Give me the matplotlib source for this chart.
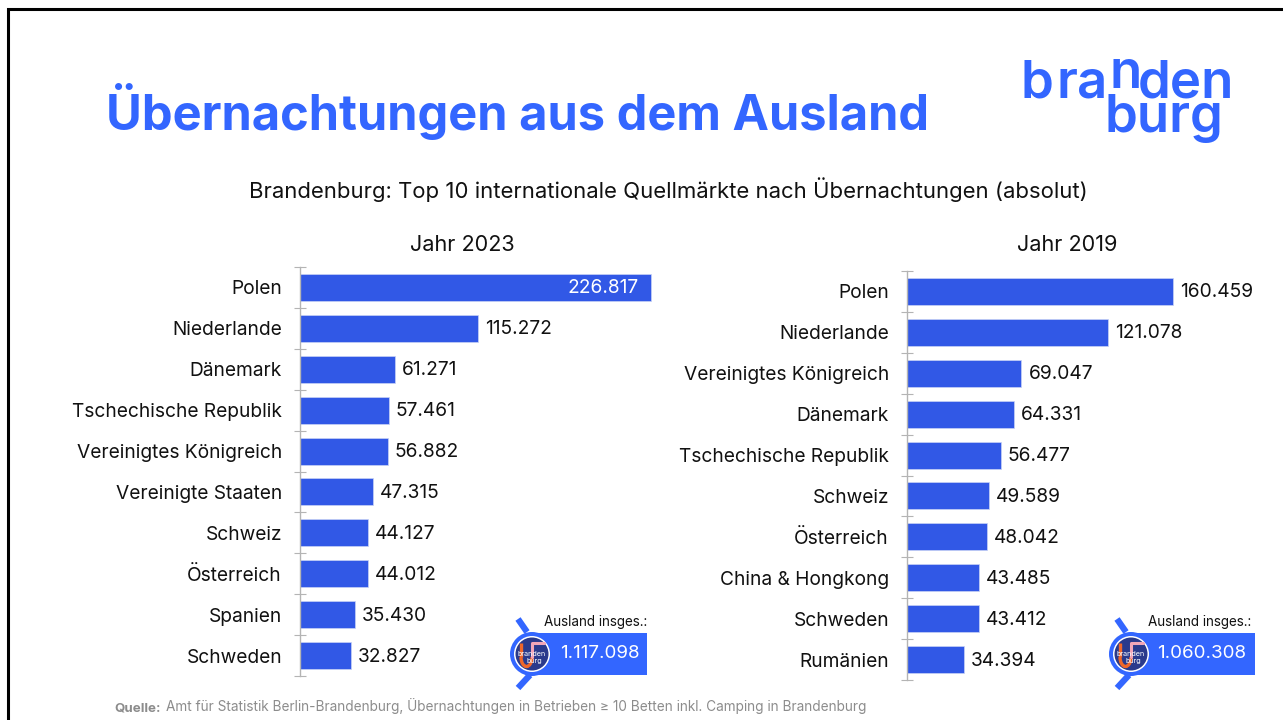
import matplotlib
matplotlib.use("Agg")
import matplotlib.pyplot as plt
from matplotlib.patches import Circle, Rectangle, Arc

W, H = 1283, 720
FONT = "Inter"
plt.rcParams["font.family"] = [FONT, "DejaVu Sans"]

TITLE = "Übernachtungen aus dem Ausland"
SUBTITLE = "Brandenburg: Top 10 internationale Quellmärkte nach Übernachtungen (absolut)"
SOURCE_BOLD = "Quelle:"
SOURCE = "Amt für Statistik Berlin-Brandenburg, Übernachtungen in Betrieben ≥ 10 Betten inkl. Camping in Brandenburg"

title_2023 = "Jahr 2023"
categories_2023 = ["Polen", "Niederlande", "Dänemark", "Tschechische Republik", "Vereinigtes Königreich",
                   "Vereinigte Staaten", "Schweiz", "Österreich", "Spanien", "Schweden"]
values_2023 = [226817, 115272, 61271, 57461, 56882, 47315, 44127, 44012, 35430, 32827]
total_2023 = 1117098

title_2019 = "Jahr 2019"
categories_2019 = ["Polen", "Niederlande", "Vereinigtes Königreich", "Dänemark", "Tschechische Republik",
                   "Schweiz", "Österreich", "China & Hongkong", "Schweden", "Rumänien"]
values_2019 = [160459, 121078, 69047, 64331, 56477, 49589, 48042, 43485, 43412, 34394]
total_2019 = 1060308

BLUE = "#3366FF"
BAR = "#3158E6"
GREY = "#B4B4B4"
INK = "#111111"
LABEL_SIZE = 13.8


def fmt(v):
    return f"{v:,}".replace(",", ".")


fig = plt.figure(figsize=(W / 100, H / 100), dpi=100, facecolor="white")
bg = fig.add_axes([0, 0, 1, 1], zorder=5)
bg.set_xlim(0, W)
bg.set_ylim(H, 0)
bg.axis("off")
bg.patch.set_alpha(0)

# frame
bg.plot([8, 8, W], [H, 9, 9], color="black", lw=2.2, solid_joinstyle="miter")

# header
bg.text(106, 130, TITLE, color=BLUE, fontsize=35.2, fontweight="bold", va="baseline", ha="left")
bg.text(668, 198, SUBTITLE, color=INK, fontsize=15.9, va="baseline", ha="center")

# logo
logo_kw = dict(color=BLUE, fontsize=38, va="baseline", fontweight="semibold")
bg.text(1021, 98, "b", ha="left", **logo_kw)
bg.text(1057, 98, "r", ha="left", **logo_kw)
bg.text(1077, 98, "a", ha="left", **logo_kw)
bg.text(1126, 88, "n", ha="center", **logo_kw)
bg.text(1234, 98, "den", ha="right", **logo_kw)
bg.text(1223, 132, "burg", ha="right", **logo_kw)


def panel(left, top, px_per_unit, cats, vals, title, title_x, title_y, inside_first):
    xmax = 245000
    height = 409
    width = xmax * px_per_unit
    ax = fig.add_axes([left / W, 1 - (top + height) / H, width / W, height / H])
    ax.patch.set_alpha(0)
    ypos = list(range(len(vals)))
    ax.barh(ypos, vals, height=0.66, color=BAR, edgecolor="#C9D3F5", linewidth=0.5)
    ax.set_xlim(0, xmax)
    ax.set_ylim(len(vals) - 0.5, -0.5)
    for s in ["top", "right", "bottom"]:
        ax.spines[s].set_visible(False)
    ax.spines["left"].set_color(GREY)
    ax.spines["left"].set_linewidth(1.0)
    ax.xaxis.set_visible(False)
    ax.set_yticks(ypos)
    ax.set_yticklabels(cats, fontsize=LABEL_SIZE, color=INK)
    ax.set_yticks([p - 0.5 for p in ypos] + [len(vals) - 0.5], minor=True)
    ax.tick_params(axis="y", which="major", length=0, pad=13)
    ax.tick_params(axis="y", which="minor", direction="inout", length=8.5, width=0.8, color=GREY)
    for i, v in zip(ypos, vals):
        if i == 0 and inside_first:
            ax.annotate(fmt(v), (v, i), xytext=(-9, -0.7), textcoords="offset points",
                        ha="right", va="center", color="white", fontsize=LABEL_SIZE)
        else:
            ax.annotate(fmt(v), (v, i), xytext=(5, -0.7), textcoords="offset points",
                        ha="left", va="center", color=INK, fontsize=LABEL_SIZE)
    bg.text(title_x, title_y, title, ha="center", va="baseline", fontsize=15.6, color=INK)


panel(300, 267, 351 / 226817, categories_2023, values_2023, title_2023, 462, 251, True)
panel(907, 271, 266 / 160459, categories_2019, values_2019, title_2019, 1067, 251, False)


def badge(cx, right, total, label_x, value_x):
    cy = 654
    bg.add_patch(Rectangle((cx, 633), right - cx, 42, color=BLUE, lw=0, zorder=2))
    bg.plot([cx - 14, cx - 5], [619, 632], color=BLUE, lw=4.5, zorder=2, solid_capstyle="butt")
    bg.plot([cx - 14, cx - 2], [688, 675], color=BLUE, lw=4.5, zorder=2, solid_capstyle="butt")
    bg.add_patch(Circle((cx, cy), 22, color=BLUE, lw=0, zorder=3))
    bg.add_patch(Circle((cx, cy), 18, color="white", lw=0, zorder=4))
    bg.add_patch(Circle((cx, cy), 16.5, color="#2A3A8C", lw=0, zorder=5))
    orange = "#F0672A"
    pink = "#F2A6B8"
    bg.plot([cx - 11, cx - 11], [cy - 11, cy + 3], color=orange, lw=2.4, zorder=6, solid_capstyle="butt")
    bg.add_patch(Arc((cx - 5.5, cy + 3), 11, 19, theta1=0, theta2=180, color=orange, lw=2.4, zorder=6))
    bg.plot([cx, cx, cx + 12], [cy + 3, cy - 11, cy - 11], color=pink, lw=2.2, zorder=6, solid_capstyle="round")
    bg.text(cx, cy - 0.5, "branden", color="white", fontsize=5.2, ha="center", va="center", zorder=7)
    bg.text(cx + 2, cy + 6.5, "burg", color="white", fontsize=5.2, ha="center", va="center", zorder=7)
    bg.text(label_x, 622, "Ausland insges.:", ha="center", va="center", fontsize=9.7, color=INK)
    bg.text(value_x, 654, fmt(total), ha="center", va="center", fontsize=13.5, color="white", zorder=6)


badge(532, 647, total_2023, 596, 600)
badge(1131, 1255, total_2019, 1200, 1202)

# source
bg.text(114, 711, SOURCE_BOLD, color="#8C8C8C", fontsize=9.6, fontweight="bold", ha="left", va="baseline")
bg.text(166, 711, SOURCE, color="#8C8C8C", fontsize=9.8, ha="left", va="baseline")

fig.savefig("out.png", dpi=100, facecolor="white")
